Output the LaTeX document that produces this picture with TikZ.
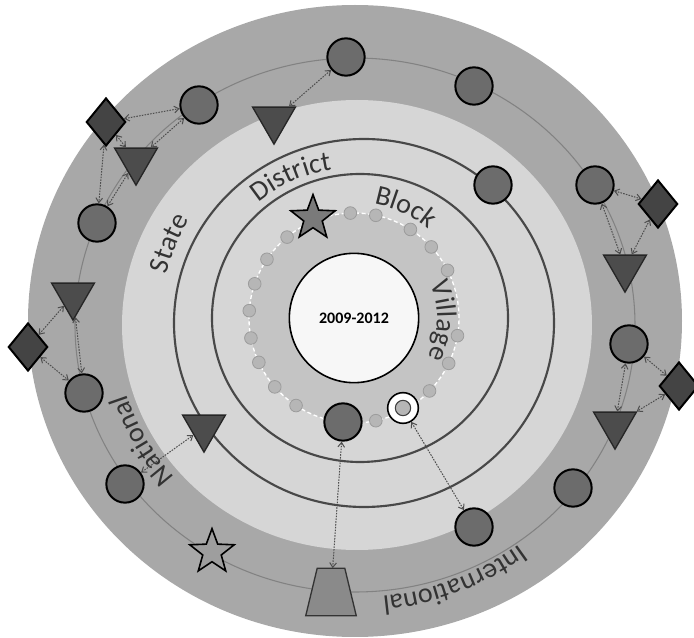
\documentclass[tikz,border=0pt]{standalone}
\usepackage{fontspec}
\setmainfont{Carlito}
\usetikzlibrary{shapes.geometric,arrows.meta,calc,decorations.text}

\definecolor{ringA}{HTML}{A8A8A8}
\definecolor{orbitC}{HTML}{828282}
\definecolor{patC}{HTML}{D6D6D6}
\definecolor{villC}{HTML}{C4C4C4}
\definecolor{lineC}{HTML}{484848}
\definecolor{circC}{HTML}{6C6C6C}
\definecolor{triC}{HTML}{4C4C4C}
\definecolor{diaC}{HTML}{444444}
\definecolor{dotC}{HTML}{B6B6B6}
\definecolor{dotE}{HTML}{9C9C9C}
\definecolor{lblC}{HTML}{333333}
\definecolor{conC}{HTML}{4E4E4E}
\definecolor{starA}{HTML}{7A7A7A}
\definecolor{starB}{HTML}{9E9E9E}
\definecolor{trapC}{HTML}{8A8A8A}

\newcommand\ringfont{\fontsize{21pt}{21pt}\selectfont}

\begin{document}
\begin{tikzpicture}[x=0.75pt,y=-0.75pt,
 bigdot/.style={circle,draw=black,line width=1.5pt,fill=circC,minimum size=28pt,inner sep=0pt},
 tri/.style={regular polygon,regular polygon sides=3,shape border rotate=180,draw=black!85,line width=1pt,fill=triC,minimum size=37pt,inner sep=0pt},
 dia/.style={diamond,draw=black,line width=1.5pt,fill=diaC,minimum width=29.5pt,minimum height=36pt,inner sep=0pt},
 smalldot/.style={circle,draw=dotE,line width=0.6pt,fill=dotC,minimum size=9.5pt,inner sep=0pt},
 starshape/.style={star,star points=5,star point ratio=2.4,draw=black,line width=1.2pt,minimum size=35pt,inner sep=0pt},
 link/.style={draw=conC,line width=0.75pt,dash pattern=on 1.2pt off 0.9pt,
   {Straight Barb[length=3.5pt,width=5pt]}-{Straight Barb[length=3.5pt,width=5pt]}},
 arclabel/.style={decorate,decoration={text along path,text align=center,text color=lblC,text={|\ringfont|#1}}}
 ]
\useasboundingbox (0,0) rectangle (694,638);
\coordinate (ctr) at (354,318);

% rings
\fill[ringA] (355,321) ellipse [x radius=245.25pt, y radius=237pt];
\draw[orbitC,line width=0.8pt] (355,325) ellipse [x radius=210pt, y radius=200.25pt];
\fill[patC] (357,325) ellipse [x radius=176.25pt, y radius=168.75pt];
\draw[lineC,line width=1.6pt] (364,323) ellipse [x radius=142.5pt, y radius=138pt];
\draw[lineC,line width=1.6pt] (360,318) ellipse [x radius=111pt, y radius=108pt];
\draw[fill=villC,draw=white,line width=1pt,dash pattern=on 3pt off 2pt] (ctr) circle [radius=78.75pt];

% small village dots
\foreach \a [count=\i] in {92,78,57.5,42.6,27,-9.7,-25.6,-44,-78,-123.5,-139,-155,-169,176,161,146,129.6}
  \node[smalldot] (d\i) at ($(ctr)+(\a:78.75pt)$) {};

% core
\node[circle,draw=black,line width=1.2pt,fill=white!97!black,minimum size=97pt,inner sep=0pt,
      font=\bfseries\fontsize{12pt}{12pt}\selectfont] (core) at (ctr) {2009-2012};

% labels
\path[arclabel=Block] ($(ctr)+(100:87pt)$) arc [start angle=100,end angle=30,radius=87pt];
\path[arclabel=Village] ($(ctr)+(53:62.5pt)$) arc [start angle=53,end angle=-57,radius=62.5pt];
\path[arclabel=District] ($(ctr)+(149:112.5pt)$) arc [start angle=149,end angle=79,radius=112.5pt];
\path[arclabel=State] ($(ctr)+(183:144pt)$) arc [start angle=183,end angle=133,radius=144pt];
\path[arclabel=National] ($(ctr)+(235:180pt)$) arc [start angle=235,end angle=185,radius=180pt];
\path[arclabel=International] ($(ctr)+(-39:210pt)$) arc [start angle=-39,end angle=-99,radius=210pt];

% big circles
\node[bigdot] (C1) at (346,57) {};
\node[bigdot] (C2) at (199,105) {};
\node[bigdot] (C3) at (474,86) {};
\node[bigdot] (C4) at (97,223) {};
\node[bigdot] (C5) at (493,185) {};
\node[bigdot] (C6) at (595,185) {};
\node[bigdot] (C7) at (84,393) {};
\node[bigdot] (C8) at (125,484) {};
\node[bigdot] (C9) at (343,422) {};
\node[bigdot] (C10) at (629,344) {};
\node[bigdot] (C11) at (573,488) {};
\node[bigdot] (C12) at (474,527) {};

% triangles
\node[tri] (T1) at (274,119.5) {};
\node[tri] (T2) at (136,160.5) {};
\node[tri] (T3) at (73,295.5) {};
\node[tri] (T4) at (204,427.5) {};
\node[tri] (T5) at (625,267.5) {};
\node[tri] (T6) at (615,424.5) {};

% diamonds
\node[dia] (D1) at (106,122) {};
\node[dia] (D2) at (28,347) {};
\node[dia] (D3) at (658,204) {};
\node[dia] (D4) at (679,386) {};

% stars
\node[starshape,fill=starA] (S1) at (313,218) {};
\node[starshape,fill=starB] (S2) at (212,552) {};

% trapezoid (box node + outline)
\node[minimum width=37.5pt,minimum height=35.25pt,inner sep=0pt] (trap) at (331,592) {};
\draw[draw=black!80,line width=1pt,fill=trapC] (trap.south west) -- (trap.south east)
   -- ([xshift=-8.6pt]trap.north east) -- ([xshift=8.6pt]trap.north west) -- cycle;

% ring symbol
\node[circle,draw=black,line width=1.2pt,fill=white,minimum size=23pt,inner sep=0pt] (ring) at (403,408) {};
\node[circle,draw=black!75,line width=0.8pt,fill=dotC,minimum size=11.5pt,inner sep=0pt] (ringin) at (ring) {};

% connectors
\draw[link] (C1) -- (T1);
\draw[link] (D1) -- (C2);
\draw[link] (D1) -- (T2);
\draw[link] (C2) -- (T2);
\draw[link] (D1) -- (C4);
\draw[link] (C4) -- (T2);
\draw[link] (D2) -- (T3);
\draw[link] (D2) -- (C7);
\draw[link] (T3) -- (C7);
\draw[link] (C8) -- (T4);
\draw[link] (C6) -- (D3);
\draw[link] (C6) -- (T5);
\draw[link] (D3) -- (T5);
\draw[link] (C10) -- (D4);
\draw[link] (C10) -- (T6);
\draw[link] (D4) -- (T6);
\draw[link] (C9) -- (trap);
\draw[link] (ring) -- (C12);
\end{tikzpicture}
\end{document}
